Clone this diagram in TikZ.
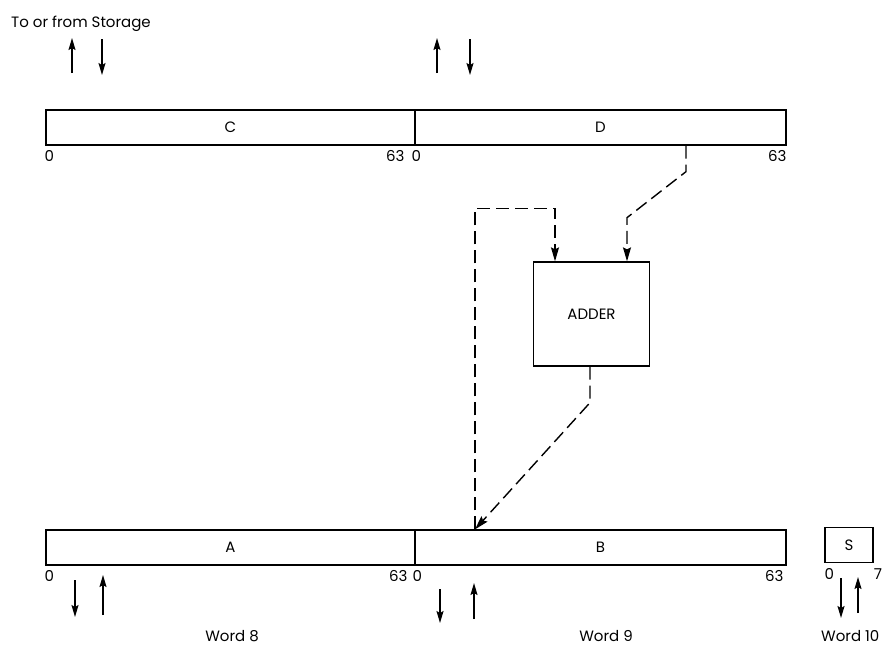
\documentclass[tikz,border=0pt]{standalone}
\usepackage{fontspec}
\setmainfont{Poppins}
\usepackage{tikz}
\usetikzlibrary{arrows.meta}

\begin{document}
\begin{tikzpicture}[
   x=1pt, y=-1pt,
   font=\fontsize{15}{17}\selectfont,
   reg/.style={rectangle, draw=black, line width=1.3, inner sep=0,
               minimum height=35},
   adderbox/.style={rectangle, draw=black, line width=1.3, inner sep=0,
                    minimum width=116, minimum height=104},
   bit/.style={inner sep=0},
   flow/.style={-{Stealth[length=12, width=7, inset=2]}, line width=1.4},
   dataflow/.style={-{Stealth[length=14, width=8, inset=2]}, line width=1.4,
                    dash pattern=on 13 off 6}
  ]

  % Frame
  \useasboundingbox (0, 0) rectangle (885, 646);

  % Registers
  \node (C) at (230.5, 127.5) [reg, minimum width=369] {C};
  \node (D) at (600.5, 127.5) [reg, minimum width=371] {D};
  \node (A) at (230.5, 547.5) [reg, minimum width=369] {A};
  \node (B) at (600.5, 547.5) [reg, minimum width=371] {B};
  \node (S) at (849, 545) [reg, minimum width=48] {S};

  \node (ADDER) at (591.5, 314) [adderbox] {ADDER};

  % Bit numbers
  \foreach \R/\l/\r in {C/-1/-11, D/-3/0, A/-1/-8, B/-2/-3} {
    \node [bit, anchor=north west] at ([xshift=\l, yshift=-5]\R.south west) {0};
    \node [bit, anchor=north east] at ([xshift=\r, yshift=-5]\R.south east) {63};
  }
  \node [bit, anchor=north west] at ([yshift=-5]S.south west) {0};
  \node [bit, anchor=north west] at ([yshift=-5]S.south east) {7};

  % Storage transfers
  \foreach \n/\x/\s/\e in {c1/72/73/38, c2/102/39/75, d1/437/73/38, d2/470/39/75,
                           a1/75/580/617, a2/103/615/575, b1/440/589/623,
                           b2/474/619/583, s1/841/578/618, s2/858/613/577} {
    \coordinate (\n-s) at (\x, \s);
    \coordinate (\n-e) at (\x, \e);
    \draw[flow] (\n-s) -- (\n-e);
  }

  % Adder paths
  \draw[dataflow] ([xshift=85.5]D.south) -- ++(0, 26) -- ++(-59, 46)
    -- ([xshift=35.5]ADDER.north);
  \draw[dataflow] ([xshift=-125.5]B.north) -- ++(0, -321) -- ++(80, 0)
    -- ([xshift=-36.5]ADDER.north);
  \draw[dataflow] ([xshift=-1.5]ADDER.south) -- ++(0, 36)
    -- ([xshift=-125.5]B.north);

  % Captions
  \node (storage) at (11, 27) [anchor=base west, inner sep=0] {To or from Storage};
  \node (word8) at (232, 641) [anchor=base, inner sep=0] {Word 8};
  \node (word9) at (606, 641) [anchor=base, inner sep=0] {Word 9};
  \node (word10) at (821, 641) [anchor=base west, inner sep=0] {Word 10};

\end{tikzpicture}
\end{document}
